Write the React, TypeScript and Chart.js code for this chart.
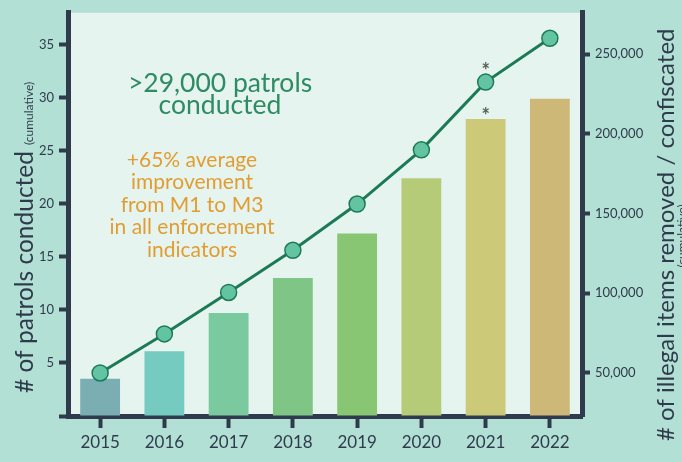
import React, { useEffect, useRef } from "react";
import { Chart, registerables } from "chart.js";
Chart.register(...registerables);

const YEARS = ["2015", "2016", "2017", "2018", "2019", "2020", "2021", "2022"];
const PATROLS = [3.5, 6.1, 9.7, 13.0, 17.2, 22.4, 28.0, 29.9];
const ITEMS = [50000, 74500, 100500, 127000, 156000, 190000, 232500, 260000];
const BAR_COLORS = ["#7aaeb3", "#76cbc0", "#7bc99e", "#7fc585", "#89c673", "#b5cb78", "#ccca78", "#cdb877"];
const LEFT_TICKS = [0, 5, 10, 15, 20, 25, 30, 35];
const RIGHT_TICKS = [50000, 100000, 150000, 200000, 250000];
const STARRED = [6];
const LEFT_TITLE = "# of patrols conducted";
const RIGHT_TITLE = "# of illegal items removed / confiscated";
const SUBTITLE = "(cumulative)";
const HEADLINE = [">29,000 patrols", "conducted"];
const NOTE = ["+65% average", "improvement", "from M1 to M3", "in all enforcement", "indicators"];

const DARK = "#2f3b4c";
const FONT = "Lato";

const decorPlugin = {
  id: "decor",
  beforeDraw(chart: any) {
    const { ctx, chartArea } = chart;
    ctx.save();
    ctx.fillStyle = "#b2e0d4";
    ctx.fillRect(0, 0, chart.width, chart.height);
    ctx.fillStyle = "#e6f4ef";
    ctx.fillRect(chartArea.left, chartArea.top, chartArea.right - chartArea.left, chartArea.bottom - chartArea.top);
    ctx.restore();
  },
  afterDatasetsDraw(chart: any) {
    const { ctx } = chart;
    const barMeta = chart.getDatasetMeta(1);
    const lineMeta = chart.getDatasetMeta(0);
    ctx.save();
    ctx.fillStyle = "#55604e";
    ctx.font = `bold 20px ${FONT}`;
    ctx.textAlign = "center";
    ctx.textBaseline = "alphabetic";
    STARRED.forEach((i) => {
      const b = barMeta.data[i];
      const p = lineMeta.data[i];
      ctx.fillText("*", b.x, b.y + 4);
      ctx.fillText("*", p.x, p.y - 4);
    });
    ctx.restore();
  },
  afterDraw(chart: any) {
    const { ctx } = chart;
    ctx.save();
    // headline
    ctx.fillStyle = "#2e8b63";
    ctx.font = `26.5px ${FONT}`;
    ctx.textAlign = "center";
    ctx.textBaseline = "middle";
    HEADLINE.forEach((t, k) => ctx.fillText(t, 220, 83 + k * 22));
    // note
    ctx.fillStyle = "#e09d32";
    ctx.font = `21px ${FONT}`;
    NOTE.forEach((t, k) => ctx.fillText(t, 192, 160 + k * 22.5));
    // left title
    ctx.fillStyle = DARK;
    ctx.save();
    ctx.translate(33, 393);
    ctx.rotate(-Math.PI / 2);
    ctx.textAlign = "left";
    ctx.textBaseline = "alphabetic";
    ctx.font = `24.5px ${FONT}`;
    ctx.fillText(LEFT_TITLE, 0, 0);
    const w = ctx.measureText(LEFT_TITLE).width;
    ctx.font = `12px ${FONT}`;
    ctx.fillText(SUBTITLE, w + 6, 0);
    ctx.restore();
    // right title
    ctx.save();
    ctx.translate(674, 441);
    ctx.rotate(-Math.PI / 2);
    ctx.textAlign = "left";
    ctx.textBaseline = "alphabetic";
    ctx.font = `24px ${FONT}`;
    ctx.fillText(RIGHT_TITLE, 0, 0);
    ctx.font = `12px ${FONT}`;
    ctx.textAlign = "center";
    ctx.fillText(SUBTITLE, 205, 12);
    ctx.restore();
    ctx.restore();
  },
};

export default function App() {
  const ref = useRef<HTMLCanvasElement>(null);
  useEffect(() => {
    const chart = new Chart(ref.current as HTMLCanvasElement, {
      type: "bar",
      data: {
        labels: YEARS,
        datasets: [
          {
            type: "line",
            label: "Items",
            data: ITEMS,
            yAxisID: "y1",
            borderColor: "#1c7a56",
            borderWidth: 3,
            pointRadius: 8,
            pointBackgroundColor: "#62c4a2",
            pointBorderColor: "#1c7a56",
            pointBorderWidth: 1.5,
            order: 0,
          } as any,
          {
            type: "bar",
            label: "Patrols",
            data: PATROLS,
            yAxisID: "y",
            backgroundColor: BAR_COLORS,
            barPercentage: 0.62,
            categoryPercentage: 1,
            order: 1,
          },
        ],
      },
      options: {
        responsive: false,
        animation: false,
        layout: { padding: { top: 10, left: 0, right: 0, bottom: 0 } },
        plugins: { legend: { display: false }, tooltip: { enabled: false } },
        scales: {
          x: {
            offset: true,
            grid: { display: true, drawOnChartArea: false, drawTicks: true, tickLength: 12, tickWidth: 4, tickColor: DARK, offset: false },
            border: { display: true, width: 5, color: DARK },
            ticks: { font: { family: FONT, size: 17 }, color: DARK, padding: 4, maxRotation: 0 },
            afterFit: (s: any) => { s.height = 46; },
          },
          y: {
            position: "left",
            min: 0,
            max: 38,
            afterBuildTicks: (s: any) => { s.ticks = LEFT_TICKS.map((v) => ({ value: v })); },
            grid: { display: true, drawOnChartArea: false, drawTicks: true, tickLength: 9, tickWidth: 4, tickColor: DARK },
            border: { display: true, width: 5, color: DARK },
            ticks: {
              font: { family: FONT, size: 13 },
              color: DARK,
              padding: 5,
              callback: (v: any) => (v === 0 ? "" : String(v)),
            },
            afterFit: (s: any) => { s.width = 68; },
          },
          y1: {
            position: "right",
            min: 23000,
            max: 276000,
            afterBuildTicks: (s: any) => { s.ticks = RIGHT_TICKS.map((v) => ({ value: v })); },
            grid: { display: true, drawOnChartArea: false, drawTicks: true, tickLength: 8, tickWidth: 4, tickColor: DARK },
            border: { display: true, width: 5, color: DARK },
            ticks: {
              font: { family: FONT, size: 13 },
              color: DARK,
              padding: 5,
              callback: (v: any) => Number(v).toLocaleString("en-US"),
            },
            afterFit: (s: any) => { s.width = 100; },
          },
        },
      },
      plugins: [decorPlugin],
    } as any);
    return () => chart.destroy();
  }, []);
  return (
    <div style={{ position: "fixed", left: 0, top: 0, width: 682, height: 462, background: "#b2e0d4" }}>
      <canvas ref={ref} width={682} height={462} />
    </div>
  );
}
